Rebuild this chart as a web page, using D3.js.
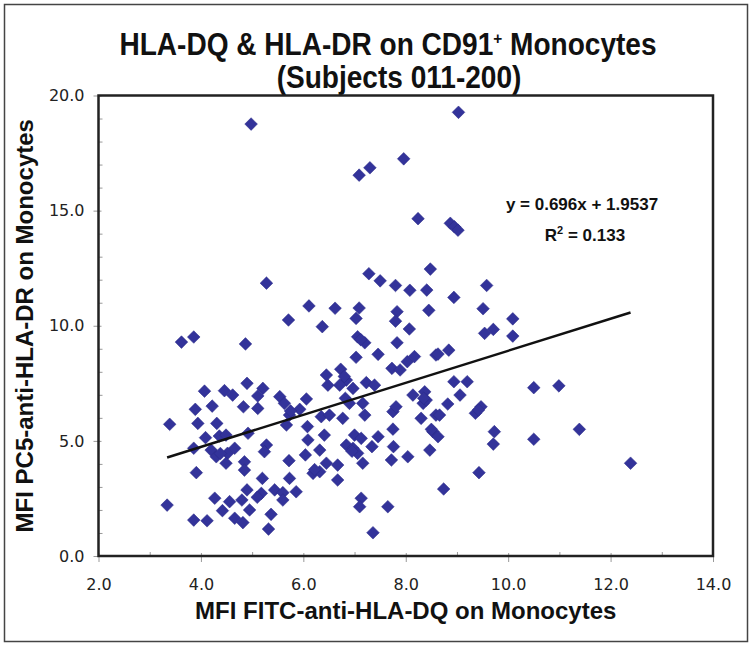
<!DOCTYPE html>
<html>
<head>
<meta charset="utf-8">
<script src="https://cdn.jsdelivr.net/npm/d3@7"></script>
<style>
  body { margin: 0; background: #fff; }
  svg { display: block; }
</style>
</head>
<body>
<div id="chart"></div>
<script>
// values
const dqValues = [
  4.98, 7.96, 7.30, 7.09, 8.24, 8.87, 8.95, 9.02, 9.03,
  5.28, 7.28, 7.50, 7.80, 8.08, 8.41, 8.48, 8.94, 9.58,
  6.11, 6.62, 7.09, 7.83, 8.45, 9.51, 5.71, 7.03, 7.80, 10.09,
  6.37, 8.07, 3.62, 3.86, 4.87, 7.06, 7.20, 7.83, 7.03, 7.46, 8.59, 7.73, 7.89, 8.03, 8.17,
  6.45, 6.73, 6.84, 6.71, 6.48, 6.97, 7.23, 7.39,
  4.07, 4.46, 4.62, 4.90, 5.21, 5.11, 5.54, 5.63, 6.06, 5.93, 3.89, 4.22, 4.83, 5.11, 5.73, 5.67,
  6.82, 6.90, 7.16, 7.20, 6.35, 6.51, 6.77,
  3.39, 3.94, 4.31, 6.08, 4.09, 4.36, 4.49, 4.92, 3.86, 4.20, 4.30, 4.52, 4.66, 4.49, 4.85, 5.28, 5.24, 4.85, 3.91,
  6.09, 6.32, 6.04, 6.41, 5.72, 6.84, 7.00, 7.13, 6.97, 7.06, 7.16, 7.34, 7.46, 7.75, 7.76, 7.72, 8.04, 8.47,
  8.30, 7.75, 7.81, 8.14, 8.37, 8.34, 8.40, 8.59, 8.53,
  6.67, 6.19, 6.32, 6.45, 6.67, 5.73, 5.20, 4.90, 5.18, 5.44, 5.60, 5.86, 5.60, 4.80, 4.27, 4.56, 4.42, 4.95,
  3.34, 3.86, 4.12, 4.66, 4.82, 5.37, 5.32, 7.13, 7.10, 7.65, 7.36,
  9.54, 9.71, 10.09, 8.63, 8.84, 8.94, 9.20, 9.06, 8.82, 8.66, 9.36, 9.47, 9.42, 8.50, 8.63, 9.73, 9.71, 9.43, 8.74,
  10.50, 10.99, 10.50, 11.39, 12.39,
  6.80, 7.12, 6.95, 5.75, 4.38, 5.10, 6.22, 8.35
];
const drValues = [
  18.76, 17.25, 16.86, 16.54, 14.65, 14.45, 14.30, 14.15, 19.27,
  11.85, 12.26, 11.95, 11.75, 11.54, 11.55, 12.46, 11.23, 11.75,
  10.86, 10.76, 10.77, 10.61, 10.67, 10.74, 10.25, 10.32, 10.20, 10.30,
  9.96, 9.86, 9.29, 9.51, 9.21, 9.52, 9.26, 9.26, 8.63, 8.76, 8.73, 8.15, 8.08, 8.44, 8.66,
  7.86, 8.11, 7.64, 7.42, 7.42, 7.28, 7.53, 7.42,
  7.16, 7.18, 6.99, 7.50, 7.28, 6.95, 6.92, 6.63, 6.82, 6.37, 6.37, 6.51, 6.48, 6.41, 6.12, 5.69,
  6.85, 6.63, 6.63, 6.12, 6.05, 6.12, 5.98,
  5.72, 5.76, 5.76, 5.62, 5.14, 5.21, 5.25, 5.33, 4.68, 4.60, 4.31, 4.46, 4.68, 4.03, 4.09, 4.82, 4.53, 3.73, 3.62,
  5.04, 4.60, 4.39, 5.25, 4.14, 4.82, 5.25, 5.11, 4.68, 4.46, 4.03, 4.75, 5.18, 5.51, 4.75, 4.17, 4.31, 4.60,
  5.98, 6.27, 6.48, 6.99, 7.13, 6.63, 6.77, 6.12, 5.40,
  3.95, 3.59, 3.66, 4.03, 3.30, 3.37, 3.37, 2.87, 2.72, 2.87, 2.75, 2.79, 2.43, 2.43, 2.51, 2.36, 1.97, 2.00,
  2.21, 1.56, 1.53, 1.64, 1.45, 1.81, 1.17, 2.51, 2.14, 2.14, 1.01,
  9.67, 9.84, 9.55, 8.77, 8.94, 7.57, 7.57, 6.99, 6.60, 6.12, 6.20, 6.48, 6.34, 5.50, 5.18, 5.40, 4.86, 3.62, 2.91,
  7.31, 7.39, 5.07, 5.50, 4.03,
  7.80, 9.40, 4.55, 6.30, 4.45, 2.55, 3.75, 6.85
];
const xTicks = [2, 4, 6, 8, 10, 12, 14];
const yTicks = [0, 5, 10, 15, 20];
const xMinor = [3, 5, 7, 9, 11, 13];
const yMinor = d3.range(1, 20).filter(v => v % 5 !== 0);
const slope = 0.696, intercept = 1.9537;

const points = dqValues.map((d, i) => ({ x: d, y: drValues[i] }));

const width = 750, height = 646;
const plot = { left: 98.5, right: 713, top: 95.5, bottom: 556 };

const svg = d3.select("#chart")
  .append("svg")
  .attr("width", width)
  .attr("height", height);

// outer border
svg.append("rect")
  .attr("x", 4.5).attr("y", 4.5)
  .attr("width", 743).attr("height", 637)
  .attr("fill", "#fff")
  .attr("stroke", "#444")
  .attr("stroke-width", 1.5);

const x = d3.scaleLinear().domain([2, 14]).range([plot.left, plot.right]);
const y = d3.scaleLinear().domain([0, 20]).range([plot.bottom, plot.top]);

const boldFont = "'Liberation Sans', Arial, sans-serif";

// title, squeezed horizontally for the condensed look
const title = svg.append("text")
  .attr("transform", "translate(388,55) scale(0.905,1)")
  .attr("text-anchor", "middle")
  .style("font-family", boldFont)
  .style("font-weight", "bold")
  .style("font-size", "31px")
  .attr("fill", "#111");
title.append("tspan").text("HLA-DQ & HLA-DR on CD91");
title.append("tspan").attr("dy", -11).style("font-size", "17px").text("+");
title.append("tspan").attr("dy", 11).text(" Monocytes");

svg.append("text")
  .attr("transform", "translate(399,88) scale(0.905,1)")
  .attr("text-anchor", "middle")
  .style("font-family", boldFont)
  .style("font-weight", "bold")
  .style("font-size", "31px")
  .attr("fill", "#111")
  .text("(Subjects 011-200)");

// minor ticks (inside)
svg.append("g")
  .attr("transform", `translate(0,${plot.bottom})`)
  .call(d3.axisBottom(x).tickValues(xMinor).tickSize(-4).tickFormat(""))
  .call(g => g.select(".domain").remove())
  .call(g => g.selectAll("line").attr("stroke", "#999"));

svg.append("g")
  .attr("transform", `translate(${plot.left},0)`)
  .call(d3.axisLeft(y).tickValues(yMinor).tickSize(-4).tickFormat(""))
  .call(g => g.select(".domain").remove())
  .call(g => g.selectAll("line").attr("stroke", "#999"));

// major ticks crossing the axis
svg.append("g")
  .attr("transform", `translate(0,${plot.bottom})`)
  .call(d3.axisBottom(x).tickValues(xTicks).tickSize(-3).tickFormat(""))
  .call(g => g.select(".domain").remove())
  .call(g => g.selectAll("line").attr("stroke", "#999"));

svg.append("g")
  .attr("transform", `translate(${plot.left},0)`)
  .call(d3.axisLeft(y).tickValues(yTicks).tickSize(-3).tickFormat(""))
  .call(g => g.select(".domain").remove())
  .call(g => g.selectAll("line").attr("stroke", "#999"));

const xAxis = svg.append("g")
  .attr("transform", `translate(0,${plot.bottom})`)
  .call(d3.axisBottom(x).tickValues(xTicks).tickSizeInner(6).tickSizeOuter(0)
    .tickPadding(17).tickFormat(d3.format(".1f")));

const yAxis = svg.append("g")
  .attr("transform", `translate(${plot.left},0)`)
  .call(d3.axisLeft(y).tickValues(yTicks).tickSizeInner(5).tickSizeOuter(0)
    .tickPadding(9).tickFormat(d3.format(".1f")));

[xAxis, yAxis].forEach(g => {
  g.select(".domain").remove();
  g.selectAll("line").attr("stroke", "#999");
  g.selectAll("text")
    .style("font-family", "Verdana, 'DejaVu Sans', sans-serif")
    .style("font-size", "16px")
    .attr("fill", "#222");
});

// plot frame
svg.append("rect")
  .attr("x", plot.left).attr("y", plot.top)
  .attr("width", plot.right - plot.left).attr("height", plot.bottom - plot.top)
  .attr("fill", "none")
  .attr("stroke", "#222")
  .attr("stroke-width", 2.5);

// points
svg.append("g")
  .selectAll("path")
  .data(points)
  .join("path")
  .attr("d", d3.symbol(d3.symbolSquare, 80))
  .attr("transform", d => `translate(${x(d.x)},${y(d.y)}) rotate(45)`)
  .attr("fill", "#33339a")
  .attr("stroke", "#2a2a88")
  .attr("stroke-width", 0.5);

// linear trendline
const [xMin, xMax] = d3.extent(points, d => d.x);
svg.append("line")
  .attr("x1", x(xMin)).attr("y1", y(slope * xMin + intercept))
  .attr("x2", x(xMax)).attr("y2", y(slope * xMax + intercept))
  .attr("stroke", "#111")
  .attr("stroke-width", 2.5);

// equation
svg.append("text")
  .attr("x", 582).attr("y", 210)
  .attr("text-anchor", "middle")
  .style("font-family", boldFont)
  .style("font-weight", "bold")
  .style("font-size", "17px")
  .attr("fill", "#111")
  .text(`y = ${slope}x + ${intercept}`);

const r2 = svg.append("text")
  .attr("x", 585).attr("y", 241)
  .attr("text-anchor", "middle")
  .style("font-family", boldFont)
  .style("font-weight", "bold")
  .style("font-size", "17px")
  .attr("fill", "#111");
r2.append("tspan").text("R");
r2.append("tspan").attr("dy", -7).style("font-size", "11px").text("2");
r2.append("tspan").attr("dy", 7).text(" = 0.133");

// axis titles
svg.append("text")
  .attr("x", (plot.left + plot.right) / 2).attr("y", 619)
  .attr("text-anchor", "middle")
  .style("font-family", boldFont)
  .style("font-weight", "bold")
  .style("font-size", "24px")
  .attr("fill", "#111")
  .text("MFI FITC-anti-HLA-DQ on Monocytes");

svg.append("text")
  .attr("transform", `translate(33,${(plot.top + plot.bottom) / 2}) rotate(-90)`)
  .attr("text-anchor", "middle")
  .style("font-family", boldFont)
  .style("font-weight", "bold")
  .style("font-size", "24px")
  .attr("fill", "#111")
  .text("MFI PC5-anti-HLA-DR on Monocytes");
</script>
</body>
</html>
